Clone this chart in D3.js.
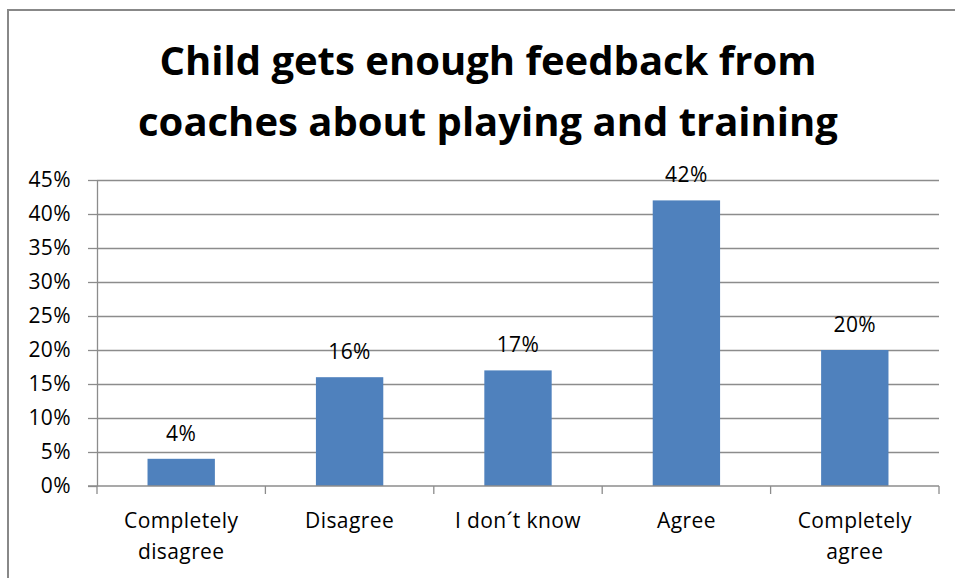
<!DOCTYPE html>
<html>
<head>
<meta charset="utf-8">
<script src="https://cdn.jsdelivr.net/npm/d3@7"></script>
<style>
  body { margin: 0; background: #fff; }
  svg { display: block; font-family: "Open Sans", "Liberation Sans", sans-serif; }
</style>
</head>
<body>
<script>
// chart values
var titleLines = ["Child gets enough feedback from", "coaches about playing and training"];
var categories = [["Completely", "disagree"], ["Disagree"], ["I don\u00b4t know"], ["Agree"], ["Completely", "agree"]];
var values = [0.04, 0.16, 0.17, 0.42, 0.20];
var yTicks = [0, 0.05, 0.10, 0.15, 0.20, 0.25, 0.30, 0.35, 0.40, 0.45];

function drawChart() {
    var width = 955;
    var height = 578;
    var plotLeft = 97;
    var plotRight = 939;
    var plotTop = 180;
    var plotBottom = 486;
    var labelSize = "21px";

    var svg = d3.select("body")
                .append("svg")
                .attr("width", width)
                .attr("height", height);

    // outer frame of the chart
    svg.append("rect")
        .attr("x", 8)
        .attr("y", 10)
        .attr("width", width + 10)
        .attr("height", height + 10)
        .attr("fill", "#fff")
        .attr("stroke", "#888")
        .attr("stroke-width", 2);

    svg.selectAll("text.title")
        .data(titleLines)
        .enter()
        .append("text")
        .attr("class", "title")
        .attr("x", 488)
        .attr("y", function(d, i) { return 75 + i * 61; })
        .attr("text-anchor", "middle")
        .style("font-size", "40px")
        .style("font-weight", "bold")
        .text(function(d) { return d; });

    var keys = categories.map(function(d) { return d.join(" "); });

    var xScale = d3.scaleBand()
                    .domain(keys)
                    .range([plotLeft, plotRight]);

    var yScale = d3.scaleLinear()
                    .domain([0, 0.45])
                    .range([plotBottom, plotTop]);

    // gridlines
    svg.append("g")
        .attr("class", "grid")
        .attr("transform", "translate(" + plotLeft + ",0)")
        .call(d3.axisLeft(yScale)
                .tickValues(yTicks.slice(1))
                .tickSize(-(plotRight - plotLeft))
                .tickFormat(""))
        .call(function(g) {
            g.select(".domain").remove();
            g.selectAll("line").attr("stroke", "#8c8c8c").attr("stroke-width", 1.3);
        });

    // y axis
    svg.append("g")
        .attr("class", "y axis")
        .attr("transform", "translate(" + plotLeft + ",0)")
        .call(d3.axisLeft(yScale)
                .tickValues(yTicks)
                .tickSize(9)
                .tickSizeOuter(0)
                .tickPadding(17)
                .tickFormat(d3.format(".0%")))
        .call(function(g) {
            g.select(".domain").attr("stroke", "#8c8c8c").attr("stroke-width", 1.3);
            g.selectAll("line").attr("stroke", "#8c8c8c").attr("stroke-width", 1.3);
            g.selectAll("text")
                .attr("fill", "#000")
                .style("font-size", labelSize)
                .style("letter-spacing", "0.4px")
                .style("font-family", "\"Open Sans\", sans-serif");
        });

    var step = xScale.step();

    // bars
    svg.selectAll("rect.bar")
        .data(values)
        .enter()
        .append("rect")
        .attr("class", "bar")
        .attr("x", function(d, i) { return xScale(keys[i]) + step * 0.3; })
        .attr("y", function(d) { return yScale(d); })
        .attr("width", step * 0.4)
        .attr("height", function(d) { return plotBottom - yScale(d); })
        .attr("fill", "#4f81bd");

    // x axis with ticks between categories
    var xAxis = svg.append("g")
                    .attr("class", "x axis")
                    .attr("transform", "translate(0," + plotBottom + ")");

    xAxis.append("line")
        .attr("x1", plotLeft - 9)
        .attr("x2", plotRight)
        .attr("stroke", "#8c8c8c")
        .attr("stroke-width", 1.3);

    xAxis.selectAll("line.tick")
        .data(keys.concat(["end"]))
        .enter()
        .append("line")
        .attr("class", "tick")
        .attr("x1", function(d, i) { return i < keys.length ? xScale(d) : plotRight; })
        .attr("x2", function(d, i) { return i < keys.length ? xScale(d) : plotRight; })
        .attr("y1", 0)
        .attr("y2", 8)
        .attr("stroke", "#8c8c8c")
        .attr("stroke-width", 1.3);

    var labels = xAxis.selectAll("text.cat")
                    .data(categories)
                    .enter()
                    .append("text")
                    .attr("class", "cat")
                    .attr("text-anchor", "middle")
                    .attr("transform", function(d, i) {
                        return "translate(" + (xScale(keys[i]) + step / 2) + ",42)";
                    })
                    .style("font-size", labelSize)
                    .style("letter-spacing", "0.4px");

    labels.selectAll("tspan")
        .data(function(d) { return d; })
        .enter()
        .append("tspan")
        .attr("x", 0)
        .attr("y", function(d, i) { return i * 31; })
        .text(function(d) { return d; });

    // value labels above bars
    svg.selectAll("text.value")
        .data(values)
        .enter()
        .append("text")
        .attr("class", "value")
        .attr("x", function(d, i) { return xScale(keys[i]) + step / 2; })
        .attr("y", function(d) { return yScale(d) - 18; })
        .attr("text-anchor", "middle")
        .style("font-size", labelSize)
        .style("letter-spacing", "0.4px")
        .text(function(d) { return d3.format(".0%")(d); });
}

drawChart();
</script>
</body>
</html>
